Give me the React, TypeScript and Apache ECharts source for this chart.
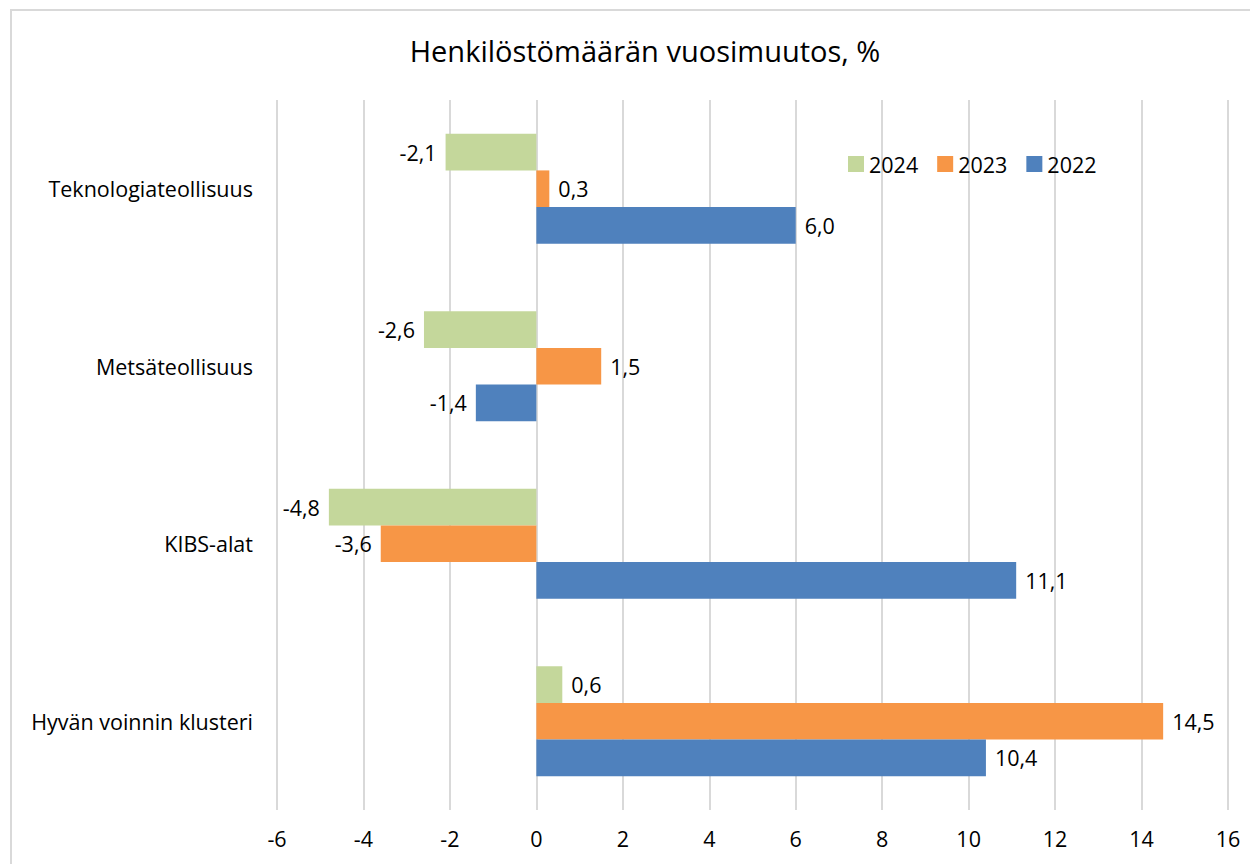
import React, { useEffect, useRef } from "react";
import * as echarts from "echarts";

const categories = ["Teknologiateollisuus", "Metsäteollisuus", "KIBS-alat", "Hyvän voinnin klusteri"];
const values2024 = [-2.1, -2.6, -4.8, 0.6];
const values2023 = [0.3, 1.5, -3.6, 14.5];
const values2022 = [6.0, -1.4, 11.1, 10.4];
const seriesNames = ["2024", "2023", "2022"];
const colors = ["#C4D79B", "#F79646", "#4F81BD"];

const FONT = "'Open Sans', sans-serif";
const FS = 21.5;

export default function App() {
  const ref = useRef<HTMLDivElement>(null);
  useEffect(() => {
    document.body.style.margin = "0";
    const chart = echarts.init(ref.current!, null, { renderer: "svg" });
    const mk = (name: string, data: number[], color: string) => ({
      name,
      type: "bar",
      data: data.map((v) => ({
        value: v,
        label: { position: v < 0 ? "left" : "right" },
      })),
      itemStyle: { color },
      barCategoryGap: "38%",
      barGap: "0%",
      label: {
        show: true,
        fontSize: FS,
        fontFamily: FONT,
        color: "#000",
        distance: 9,
        formatter: (p: any) => p.value.toFixed(1).replace(".", ","),
      },
    });
    chart.setOption({
      animation: false,
      textStyle: { fontFamily: FONT },
      title: {
        text: "Henkilöstömäärän vuosimuutos, %",
        left: 640,
        textAlign: "center",
        top: 31,
        textStyle: { fontSize: 29, fontWeight: "normal", color: "#000", fontFamily: FONT },
      },
      legend: {
        data: seriesNames,
        left: 843,
        top: 148,
        itemWidth: 16,
        itemHeight: 16,
        itemGap: 19,
        icon: "rect",
        textStyle: { fontSize: FS, color: "#000", fontFamily: FONT },
      },
      graphic: [
        {
          type: "rect",
          shape: { x: 11, y: 10, width: 1260, height: 880 },
          style: { fill: "none", stroke: "#D9D9D9", lineWidth: 2 },
          silent: true,
          z: -1,
        },
      ],
      grid: { left: 277, right: 22, top: 100, bottom: 54, containLabel: false },
      xAxis: {
        type: "value",
        min: -6,
        max: 16,
        interval: 2,
        axisLine: { show: false },
        axisTick: { show: false },
        splitLine: { lineStyle: { color: "#D9D9D9", width: 2 } },
        axisLabel: { fontSize: FS, color: "#000", margin: 17, fontFamily: FONT },
      },
      yAxis: {
        type: "category",
        data: categories,
        inverse: true,
        axisLine: { show: false },
        axisTick: { show: false },
        axisLabel: { fontSize: FS, color: "#000", margin: 24, fontFamily: FONT },
      },
      series: [
        mk(seriesNames[0], values2024, colors[0]),
        mk(seriesNames[1], values2023, colors[1]),
        mk(seriesNames[2], values2022, colors[2]),
      ],
    });
    return () => chart.dispose();
  }, []);
  return <div ref={ref} style={{ width: 1250, height: 864 }} />;
}
